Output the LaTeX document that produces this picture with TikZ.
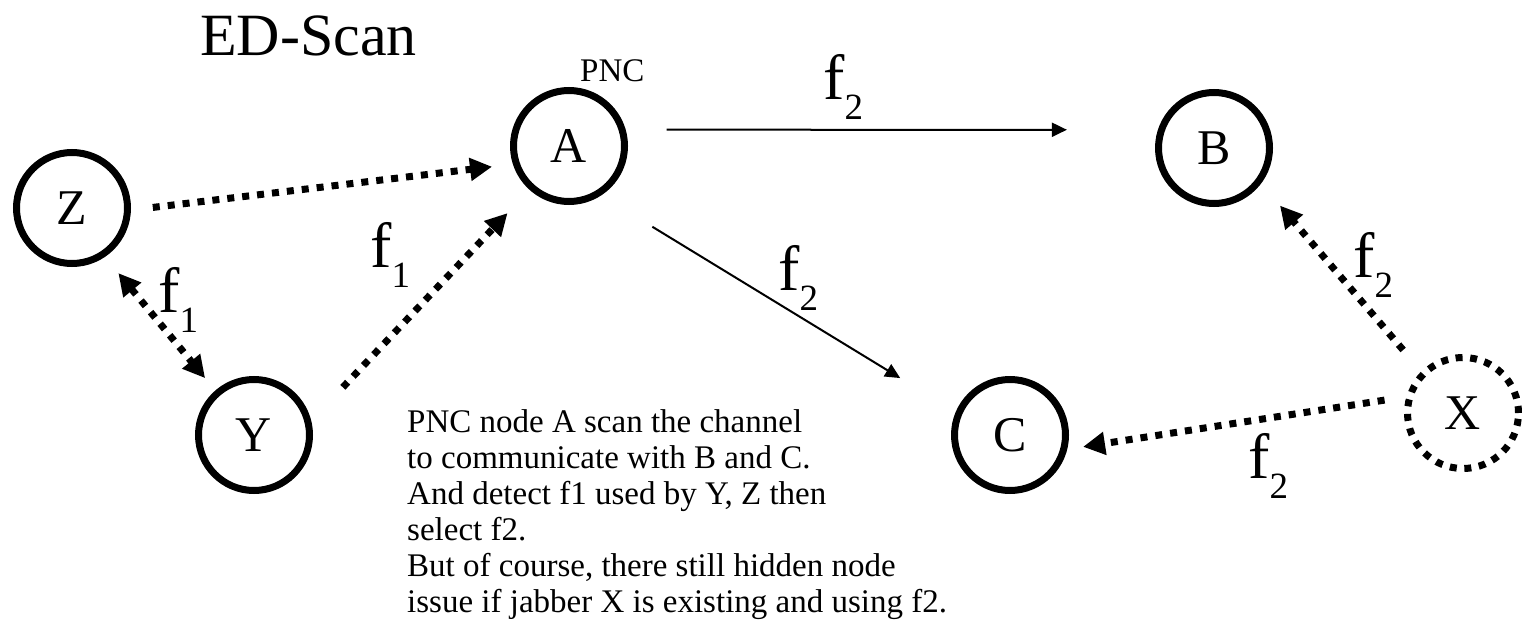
\documentclass[tikz,border=0pt]{standalone}
\usepackage{fontspec}
\setmainfont{Liberation Serif}
\usetikzlibrary{arrows.meta}
\newcommand{\flab}[1]{{\fontsize{64}{64}\selectfont f}\raisebox{-20pt}{\fontsize{37}{37}\selectfont #1}}

\begin{document}
\begin{tikzpicture}[x=1pt,y=-1pt,
	knoten/.style={circle,draw,line width=7pt,minimum size=111pt,inner sep=0pt,font=\fontsize{50}{50}\selectfont},
	punkte/.style={line width=7pt,dash pattern=on 7pt off 8pt},
	funk/.style={punkte,-{Triangle[length=22pt,width=22pt]}},
	funkzwei/.style={punkte,{Triangle[length=22pt,width=22pt]}-{Triangle[length=22pt,width=22pt]}},
	dunn/.style={line width=2pt,-{Triangle[length=15pt,width=14pt]}},
	beschr/.style={anchor=base west,inner sep=0pt}]
	\useasboundingbox (0,0) rectangle (1522,623);
	\node[beschr,font=\fontsize{60}{60}\selectfont] (titel) at (200,56) {ED-Scan};
	\node[knoten] (Z) at (72,208) {Z};
	\node[knoten] (A) at (569,146) {A};
	\node[knoten] (B) at (1214,148) {B};
	\node[knoten] (Y) at (254,435) {Y};
	\node[knoten] (C) at (1010,435) {C};
	\node[knoten,dash pattern=on 7pt off 7.6pt] (X) at (1463,413) {X};
	\node[beschr,font=\fontsize{33}{33}\selectfont] (pnc) at (580,82) {PNC};
	% Verbindungen
	\draw[funk,shorten <=22pt,shorten >=21pt] (Z.-2) -- (A.198);
	\draw[funkzwei,shorten <=21pt,shorten >=16pt] (Z.-56) -- (Y.131);
	\draw[funk,shorten <=46pt,shorten >=32pt] (Y.14) -- (A.228);
	\draw[dunn,shorten <=41pt,shorten >=91pt] (A.16) -- (B.162);
	\draw[dunn,shorten <=60pt,shorten >=65pt] (A.-57) -- (C.157);
	\draw[funk,shorten <=28pt,shorten >=29pt] (X.135) -- (B.-37);
	\draw[funk,shorten <=22pt,shorten >=16pt] (X.164) -- (C.-14);
	% Frequenzen
	\node[beschr] (fAB) at (823,100) {\flab{2}};
	\node[beschr] (fAC) at (778,290) {\flab{2}};
	\node[beschr] (fZY) at (158,312) {\flab{1}};
	\node[beschr] (fYA) at (370,267) {\flab{1}};
	\node[beschr] (fXB) at (1353,277) {\flab{2}};
	\node[beschr] (fXC) at (1248,478) {\flab{2}};
	\node[anchor=north west,inner sep=0pt,align=left,font=\fontsize{33}{36}\selectfont] (text) at (407,409) {PNC node A scan the channel\\to communicate with B and C.\\And detect f1 used by Y, Z then\\select f2.\\But of course, there still hidden node\\issue if jabber X is existing and using f2.};
\end{tikzpicture}
\end{document}
